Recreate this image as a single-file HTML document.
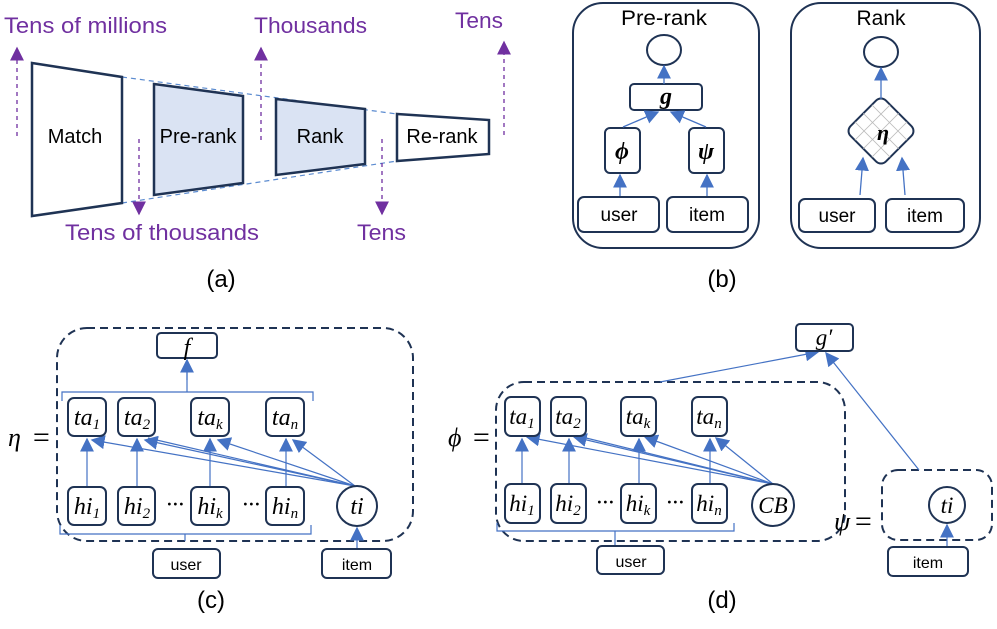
<!DOCTYPE html>
<html><head><meta charset="utf-8"><style>
html,body{margin:0;padding:0;background:#fff;}
svg{display:block;}
.s{font-family:"Liberation Sans","DejaVu Sans",sans-serif;}
.m{font-family:"Liberation Serif","DejaVu Serif",serif;font-style:italic;}
</style></head><body>
<svg width="997" height="629" viewBox="0 0 997 629" xmlns="http://www.w3.org/2000/svg">
<defs>
<marker id="b" viewBox="0 0 10 10" refX="9" refY="5" markerWidth="14" markerHeight="14" markerUnits="userSpaceOnUse" orient="auto"><path d="M0,0L10,5L0,10z" fill="#4472c4"/></marker>
<marker id="p" viewBox="0 0 10 10" refX="9" refY="5" markerWidth="14" markerHeight="14" markerUnits="userSpaceOnUse" orient="auto"><path d="M0,0L10,5L0,10z" fill="#7030a0"/></marker>
</defs>

<!-- (a) -->
<g stroke="#5b8bd0" stroke-width="1.2" stroke-dasharray="5,4" fill="none">
<line x1="122" y1="77" x2="397" y2="114"/>
<line x1="122" y1="203" x2="397" y2="161"/>
</g>
<g stroke="#1f3354" stroke-width="2.5">
<polygon points="32,63 122,77 122,203 32,216" fill="#fff"/>
<polygon points="154,84 243,96 243,183 154,195" fill="#dae3f3"/>
<polygon points="276,99 365,109 365,164 276,175" fill="#dae3f3"/>
<polygon points="397,114 489,120 489,154 397,161" fill="#fff"/>
</g>
<g class="s" font-size="20" fill="#000" text-anchor="middle">
<text x="75" y="143">Match</text>
<text x="198" y="143">Pre-rank</text>
<text x="320" y="143">Rank</text>
<text x="442" y="143">Re-rank</text>
</g>
<g stroke="#7030a0" stroke-width="1.3" stroke-dasharray="4,4">
<line x1="17" y1="136" x2="17" y2="48" marker-end="url(#p)"/>
<line x1="261" y1="140" x2="261" y2="48" marker-end="url(#p)"/>
<line x1="504" y1="135" x2="504" y2="42" marker-end="url(#p)"/>
<line x1="139" y1="139" x2="139" y2="214" marker-end="url(#p)"/>
<line x1="382" y1="139" x2="382" y2="214" marker-end="url(#p)"/>
</g>
<g class="s" font-size="22" fill="#7030a0">
<text x="4" y="33" textLength="163" lengthAdjust="spacingAndGlyphs">Tens of millions</text>
<text x="254" y="33" textLength="113" lengthAdjust="spacingAndGlyphs">Thousands</text>
<text x="455" y="28" textLength="48" lengthAdjust="spacingAndGlyphs">Tens</text>
<text x="65" y="240" textLength="194" lengthAdjust="spacingAndGlyphs">Tens of thousands</text>
<text x="357" y="240" textLength="49" lengthAdjust="spacingAndGlyphs">Tens</text>
</g>
<text class="s" x="221" y="287" font-size="24" text-anchor="middle">(a)</text>

<!-- (b) -->
<g stroke="#1f3354" stroke-width="2" fill="#fff">
<rect x="573" y="3" width="186" height="245" rx="30"/>
<rect x="791" y="3" width="189" height="245" rx="30"/>
<ellipse cx="664" cy="50" rx="17" ry="15"/>
<rect x="630" y="84" width="72" height="26" rx="4"/>
<rect x="605" y="128" width="35" height="45" rx="5"/>
<rect x="689" y="128" width="35" height="45" rx="5"/>
<rect x="578" y="197" width="81" height="35" rx="6"/>
<rect x="667" y="197" width="81" height="35" rx="6"/>
<ellipse cx="881" cy="52" rx="17" ry="15"/>
<rect x="799" y="199" width="76" height="33" rx="6"/>
<rect x="886" y="199" width="78" height="33" rx="6"/>
</g>
<g transform="translate(881,131) rotate(45)">
<rect x="-25" y="-25" width="50" height="50" rx="7" fill="#fff" stroke="#1f3354" stroke-width="2"/>
<g stroke="#bbb" stroke-width="0.8">
<line x1="-25" y1="-12" x2="25" y2="-12"/><line x1="-25" y1="0" x2="25" y2="0"/><line x1="-25" y1="12" x2="25" y2="12"/>
<line x1="-12" y1="-25" x2="-12" y2="25"/><line x1="0" y1="-25" x2="0" y2="25"/><line x1="12" y1="-25" x2="12" y2="25"/>
</g>
</g>
<g stroke="#4472c4" stroke-width="1.3" fill="none">
<line x1="664" y1="84" x2="664" y2="66" marker-end="url(#b)"/>
<line x1="623" y1="127" x2="658" y2="112" marker-end="url(#b)"/>
<line x1="706" y1="127" x2="671" y2="112" marker-end="url(#b)"/>
<line x1="620" y1="196" x2="620" y2="175" marker-end="url(#b)"/>
<line x1="707" y1="196" x2="707" y2="175" marker-end="url(#b)"/>
<line x1="881" y1="99" x2="881" y2="68" marker-end="url(#b)"/>
<line x1="860" y1="195" x2="863" y2="158" marker-end="url(#b)"/>
<line x1="905" y1="195" x2="902" y2="158" marker-end="url(#b)"/>
</g>
<g class="s" font-size="21" text-anchor="middle">
<text x="664" y="25" textLength="86" lengthAdjust="spacingAndGlyphs">Pre-rank</text>
<text x="881" y="25">Rank</text>
<text x="619" y="221" font-size="19">user</text>
<text x="707" y="221" font-size="19">item</text>
<text x="837" y="222" font-size="19">user</text>
<text x="925" y="222" font-size="19">item</text>
</g>
<g class="m" font-size="24" text-anchor="middle" font-weight="bold">
<text x="666" y="104">g</text>
<text x="622" y="159">ϕ</text>
<text x="706" y="159">ψ</text>
<text x="883" y="140" font-size="22">η</text>
</g>
<text class="s" x="722" y="287" font-size="24" text-anchor="middle">(b)</text>

<!-- (c) -->
<rect x="57" y="328" width="356" height="213" rx="30" fill="none" stroke="#1f3354" stroke-width="2" stroke-dasharray="8,5"/>
<g stroke="#4472c4" stroke-width="1.2" fill="none">
<path d="M62,401V392H313V401M187,392V366"/>
<path d="M60,525V534H311V525M185,534V541"/>
<line x1="187" y1="380" x2="187" y2="360" marker-end="url(#b)"/>
<line x1="87" y1="487" x2="87" y2="439" marker-end="url(#b)"/>
<line x1="137" y1="487" x2="137" y2="439" marker-end="url(#b)"/>
<line x1="210" y1="487" x2="210" y2="439" marker-end="url(#b)"/>
<line x1="286" y1="487" x2="286" y2="439" marker-end="url(#b)"/>
<line x1="355" y1="486" x2="92" y2="440" marker-end="url(#b)"/>
<line x1="355" y1="486" x2="145" y2="440" marker-end="url(#b)"/>
<line x1="355" y1="486" x2="218" y2="440" marker-end="url(#b)"/>
<line x1="355" y1="486" x2="293" y2="440" marker-end="url(#b)"/>
<line x1="355" y1="486" x2="148" y2="438"/>
<line x1="357" y1="549" x2="357" y2="528" marker-end="url(#b)"/>
</g>
<g stroke="#1f3354" stroke-width="2" fill="#fff">
<rect x="157" y="333" width="60" height="25" rx="4"/>
<rect x="68" y="398" width="38" height="38" rx="6"/>
<rect x="118" y="398" width="37" height="38" rx="6"/>
<rect x="191" y="398" width="38" height="38" rx="6"/>
<rect x="266" y="398" width="38" height="38" rx="6"/>
<rect x="68" y="487" width="38" height="38" rx="6"/>
<rect x="118" y="487" width="37" height="38" rx="6"/>
<rect x="191" y="487" width="38" height="38" rx="6"/>
<rect x="266" y="487" width="38" height="38" rx="6"/>
<circle cx="357" cy="506" r="20"/>
<rect x="153" y="549" width="67" height="29" rx="5"/>
<rect x="322" y="549" width="69" height="29" rx="5"/>
</g>
<g class="m" font-size="24" text-anchor="middle">
<text x="187" y="355">f</text>
<text x="87" y="425">ta<tspan font-size="15" dy="4">1</tspan></text>
<text x="137" y="425">ta<tspan font-size="15" dy="4">2</tspan></text>
<text x="210" y="425">ta<tspan font-size="15" dy="4">k</tspan></text>
<text x="285" y="425">ta<tspan font-size="15" dy="4">n</tspan></text>
<text x="87" y="514">hi<tspan font-size="15" dy="4">1</tspan></text>
<text x="137" y="514">hi<tspan font-size="15" dy="4">2</tspan></text>
<text x="210" y="514">hi<tspan font-size="15" dy="4">k</tspan></text>
<text x="285" y="514">hi<tspan font-size="15" dy="4">n</tspan></text>
<text x="357" y="514">ti</text>
<text x="8" y="446" font-size="26" text-anchor="start">η</text>
</g>
<g class="m" font-size="24" font-style="normal" text-anchor="middle">
<text x="175" y="512">···</text>
<text x="251" y="512">···</text>
<text x="31" y="447" font-size="30" text-anchor="start">=</text>
</g>
<g class="s" font-size="16" text-anchor="middle">
<text x="186" y="570">user</text>
<text x="357" y="570">item</text>
</g>
<text class="s" x="211" y="608" font-size="24" text-anchor="middle">(c)</text>

<!-- (d) -->
<rect x="496" y="382" width="349" height="159" rx="28" fill="none" stroke="#1f3354" stroke-width="2" stroke-dasharray="8,5"/>
<rect x="882" y="470" width="110" height="70" rx="16" fill="none" stroke="#1f3354" stroke-width="2" stroke-dasharray="8,5"/>
<g stroke="#4472c4" stroke-width="1.2" fill="none">
<line x1="660" y1="382" x2="818" y2="352" marker-end="url(#b)"/>
<line x1="919" y1="470" x2="826" y2="353" marker-end="url(#b)"/>
<path d="M497,523V531H734V523M615,531V546"/>
<line x1="522" y1="483" x2="522" y2="439" marker-end="url(#b)"/>
<line x1="569" y1="483" x2="569" y2="439" marker-end="url(#b)"/>
<line x1="639" y1="483" x2="639" y2="439" marker-end="url(#b)"/>
<line x1="710" y1="483" x2="710" y2="439" marker-end="url(#b)"/>
<line x1="773" y1="484" x2="527" y2="437" marker-end="url(#b)"/>
<line x1="773" y1="484" x2="574" y2="437" marker-end="url(#b)"/>
<line x1="773" y1="484" x2="645" y2="437" marker-end="url(#b)"/>
<line x1="773" y1="484" x2="716" y2="438" marker-end="url(#b)"/>
<line x1="773" y1="484" x2="578" y2="436"/>
<line x1="947" y1="547" x2="947" y2="525" marker-end="url(#b)"/>
</g>
<g stroke="#1f3354" stroke-width="2" fill="#fff">
<rect x="796" y="324" width="57" height="27" rx="4"/>
<rect x="505" y="397" width="35" height="39" rx="6"/>
<rect x="551" y="397" width="35" height="39" rx="6"/>
<rect x="621" y="397" width="35" height="39" rx="6"/>
<rect x="692" y="397" width="35" height="39" rx="6"/>
<rect x="505" y="484" width="35" height="39" rx="6"/>
<rect x="551" y="484" width="35" height="39" rx="6"/>
<rect x="621" y="484" width="35" height="39" rx="6"/>
<rect x="692" y="484" width="35" height="39" rx="6"/>
<circle cx="773" cy="505" r="21"/>
<circle cx="947" cy="505" r="18"/>
<rect x="597" y="546" width="67" height="28" rx="5"/>
<rect x="888" y="547" width="80" height="29" rx="5"/>
</g>
<g class="m" font-size="23" text-anchor="middle">
<text x="824" y="345">g′</text>
<text x="522" y="424">ta<tspan font-size="15" dy="4">1</tspan></text>
<text x="568" y="424">ta<tspan font-size="15" dy="4">2</tspan></text>
<text x="638" y="424">ta<tspan font-size="15" dy="4">k</tspan></text>
<text x="709" y="424">ta<tspan font-size="15" dy="4">n</tspan></text>
<text x="522" y="511">hi<tspan font-size="15" dy="4">1</tspan></text>
<text x="568" y="511">hi<tspan font-size="15" dy="4">2</tspan></text>
<text x="638" y="511">hi<tspan font-size="15" dy="4">k</tspan></text>
<text x="709" y="511">hi<tspan font-size="15" dy="4">n</tspan></text>
<text x="773" y="513">CB</text>
<text x="947" y="513">ti</text>
<text x="448" y="446" font-size="26" text-anchor="start">ϕ</text>
<text x="834" y="530" font-size="26" text-anchor="start">ψ</text>
</g>
<g class="m" font-size="24" font-style="normal" text-anchor="middle">
<text x="605" y="510">···</text>
<text x="675" y="510">···</text>
<text x="471" y="447" font-size="30" text-anchor="start">=</text>
<text x="853" y="531" font-size="30" text-anchor="start">=</text>
</g>
<g class="s" font-size="16" text-anchor="middle">
<text x="631" y="567">user</text>
<text x="928" y="568">item</text>
</g>
<text class="s" x="722" y="608" font-size="24" text-anchor="middle">(d)</text>
</svg>
</body></html>
